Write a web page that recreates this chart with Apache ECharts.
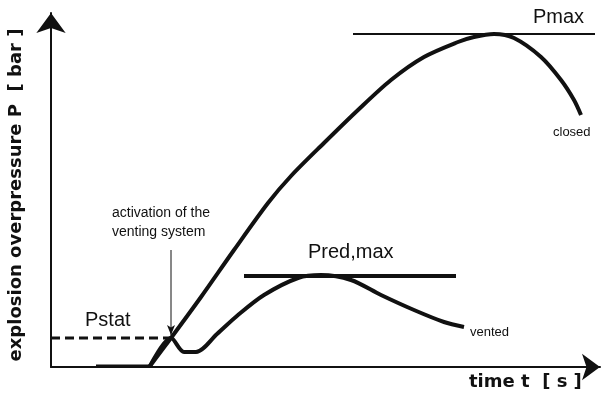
<!DOCTYPE html>
<html>
<head>
<meta charset="utf-8">
<script src="https://cdn.jsdelivr.net/npm/echarts@6/dist/echarts.min.js"></script>
<style>
  html, body { margin: 0; padding: 0; background: #fff; }
  #chart { width: 604px; height: 400px; }
</style>
</head>
<body>
<div id="chart"></div>
<script>
// curves (x = time, y = pressure, arbitrary units)
var baseline = [[45, 1], [100, 1]];
var closedCurve = [[99, 1], [120, 29], [150, 70], [183, 117], [217, 164], [240, 191], [273, 224],
  [307, 257], [340, 287], [373, 310], [407, 325], [423, 330], [443, 333], [463, 329],
  [490, 310], [510, 287], [523, 267], [530, 252]];
var ventedCurve = [[99, 1], [120, 29], [133, 15], [145, 15], [166, 33], [187, 52], [213, 72],
  [247, 89], [270, 92], [300, 87], [330, 72], [363, 57], [393, 45], [413, 40]];
// reference levels
var pstatLine = [[0, 29], [120, 29]];
var pmaxLine = [[302, 333], [544, 333]];
var predLine = [[193, 91], [405, 91]];
// arrow "activation of the venting system"
var activationArrow = [[120, 117], [120, 32]];

var FONT = 'Liberation Sans';
var chart = echarts.init(document.getElementById('chart'));

function curve(data, width, extra) {
  var s = {
    type: 'line', data: data, showSymbol: false, symbol: 'none', silent: true,
    lineStyle: { color: '#111', width: width }
  };
  for (var k in extra) s[k] = extra[k];
  return s;
}

chart.setOption({
  animation: false,
  grid: { left: 51, right: 4, top: 13, bottom: 33, outerBoundsMode: 'none' },
  xAxis: {
    type: 'value', min: 0, max: 549,
    axisLine: { lineStyle: { color: '#111', width: 2 }, symbol: ['none', 'arrow'], symbolSize: [20, 18] },
    axisTick: { show: false }, axisLabel: { show: false }, splitLine: { show: false }
  },
  yAxis: {
    type: 'value', min: 0, max: 354,
    axisLine: { lineStyle: { color: '#111', width: 2 }, symbol: ['none', 'arrow'], symbolSize: [22, 20] },
    axisTick: { show: false }, axisLabel: { show: false }, splitLine: { show: false }
  },
  series: [
    curve(pstatLine, 3, { lineStyle: { color: '#111', width: 3, type: [9, 5] } }),
    curve(baseline, 3),
    curve(closedCurve, 4, { smooth: 0.3 }),
    curve(ventedCurve, 4, { smooth: 0.3 }),
    curve(pmaxLine, 2),
    curve(predLine, 4),
    {
      type: 'line', silent: true, showSymbol: true,
      data: [
        { value: activationArrow[0], symbol: 'none' },
        { value: activationArrow[1], symbol: 'arrow', symbolSize: [6, 10], symbolRotate: 180 }
      ],
      lineStyle: { color: '#111', width: 1 },
      itemStyle: { color: '#111' }
    }
  ],
  graphic: [
    // y axis title, rotated
    { type: 'text', x: 16, y: 195, rotation: Math.PI / 2,
      style: { text: 'explosion overpressure P  [ bar ]', fontFamily: 'DejaVu Sans', fontWeight: 'bold', fontSize: 18, fill: '#111', align: 'center', verticalAlign: 'middle' } },
    { type: 'text', left: 85, top: 310, style: { text: 'Pstat', fontFamily: FONT, fontSize: 20, fill: '#111' } },
    { type: 'text', left: 112, top: 204, style: { text: 'activation of the\nventing system', fontFamily: FONT, fontSize: 14, lineHeight: 19, fill: '#111', align: 'center' } },
    { type: 'text', left: 308, top: 242, style: { text: 'Pred,max', fontFamily: FONT, fontSize: 20, fill: '#111' } },
    { type: 'text', left: 470, top: 326, style: { text: 'vented', fontFamily: FONT, fontSize: 13, fill: '#111' } },
    { type: 'text', left: 533, top: 7, style: { text: 'Pmax', fontFamily: FONT, fontSize: 20, fill: '#111' } },
    { type: 'text', left: 553, top: 126, style: { text: 'closed', fontFamily: FONT, fontSize: 13, fill: '#111' } },
    { type: 'text', left: 469, top: 373, style: { text: 'time t  [ s ]', fontFamily: 'DejaVu Sans', fontWeight: 'bold', fontSize: 18, fill: '#111' } }
  ]
});
</script>
</body>
</html>
